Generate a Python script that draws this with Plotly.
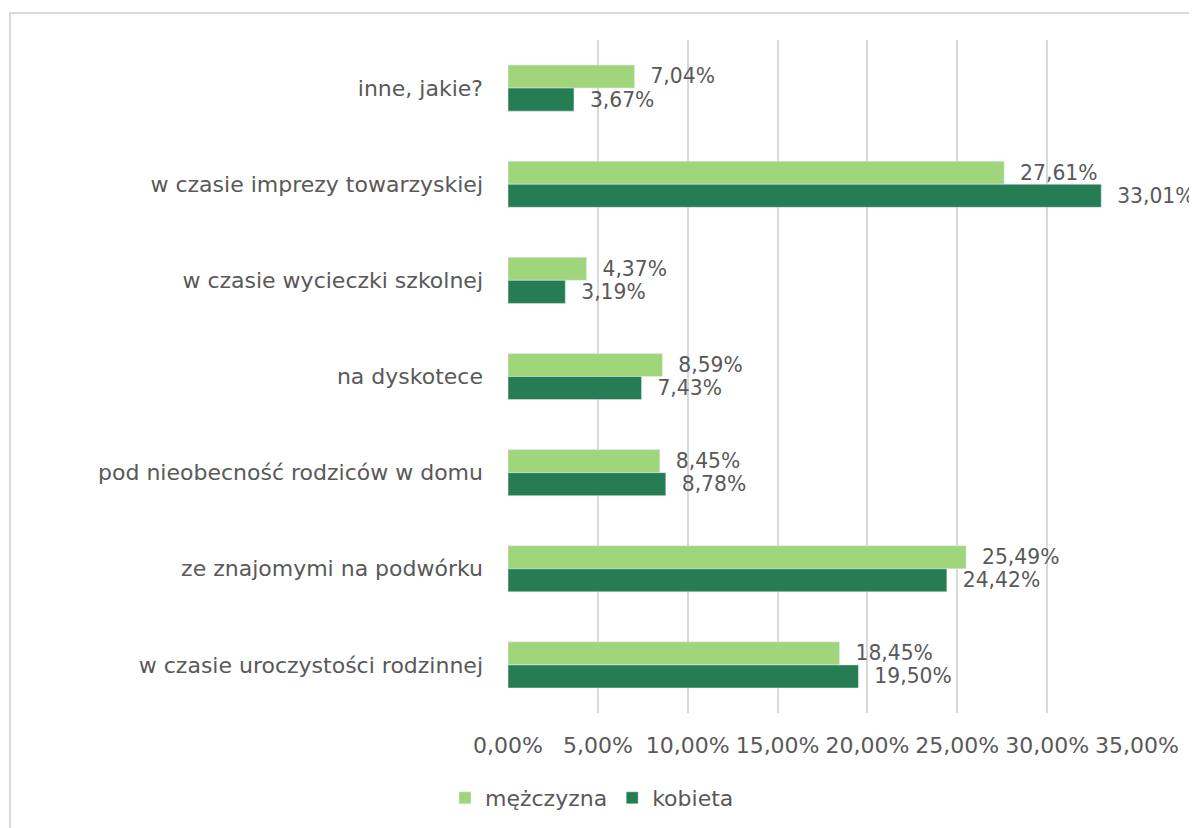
import plotly.graph_objects as go

categories = ["inne, jakie?", "w czasie imprezy towarzyskiej", "w czasie wycieczki szkolnej",
              "na dyskotece", "pod nieobecność rodziców w domu", "ze znajomymi na podwórku",
              "w czasie uroczystości rodzinnej"]
men = [7.04, 27.61, 4.37, 8.59, 8.45, 25.49, 18.45]
women = [3.67, 33.01, 3.19, 7.43, 8.78, 24.42, 19.50]
tick_vals = [0, 5, 10, 15, 20, 25, 30, 35]
tick_text = ["0,00%", "5,00%", "10,00%", "15,00%", "20,00%", "25,00%", "30,00%", "35,00%"]

W, H = 1197, 828
OFF = 8  # page body offset
L, R, T, B = 508 - OFF, 1137 - OFF, 40 - OFF, 713 - OFF
FONT = "DejaVu Sans"
TXT = "#595959"
FS = 22

fig = go.Figure()
fig.add_trace(go.Bar(y=categories, x=men, orientation="h", name="mężczyzna",
                     marker=dict(color="#A0D57C"),
                     texttemplate="  %{x:.2f}%", textposition="outside", cliponaxis=False,
                     textfont=dict(size=FS, color=TXT, family=FONT)))
fig.add_trace(go.Bar(y=categories, x=women, orientation="h", name="kobieta",
                     marker=dict(color="#277D53"),
                     texttemplate="  %{x:.2f}%", textposition="outside", cliponaxis=False,
                     textfont=dict(size=FS, color=TXT, family=FONT)))

px2x = lambda p: (p - OFF - L) / (R - L)
py2y = lambda p: (B - (p - OFF)) / (B - T)

fig.update_layout(
    width=W, height=H,
    margin=dict(l=L, r=W - R, t=T, b=H - B),
    paper_bgcolor="white", plot_bgcolor="white",
    barmode="group", bargap=0.52, bargroupgap=0,
    separators=", ",
    font=dict(family=FONT, color=TXT, size=FS),
    showlegend=True,
    legend=dict(orientation="h", x=px2x(592), y=py2y(798), xanchor="center", yanchor="middle",
                font=dict(size=FS, color=TXT, family=FONT), itemwidth=30,
                traceorder="normal"),
    xaxis=dict(range=[0, 35], tickvals=tick_vals, ticktext=tick_text,
               showgrid=True, gridcolor="#D9D9D9", gridwidth=2, zeroline=False,
               showline=False, ticklabelstandoff=17, fixedrange=True,
               tickfont=dict(size=FS, color=TXT, family=FONT)),
    yaxis=dict(autorange="reversed", showgrid=False, showline=False, zeroline=False,
               ticklabelstandoff=24, tickfont=dict(size=FS, color=TXT, family=FONT)),
    shapes=[dict(type="path", xref="paper", yref="paper",
                 path=f"M {px2x(10)},{py2y(900)} L {px2x(10)},{py2y(13)} L {px2x(1300)},{py2y(13)}",
                 line=dict(color="#D9D9D9", width=2))],
)
fig.write_html("out.html")
